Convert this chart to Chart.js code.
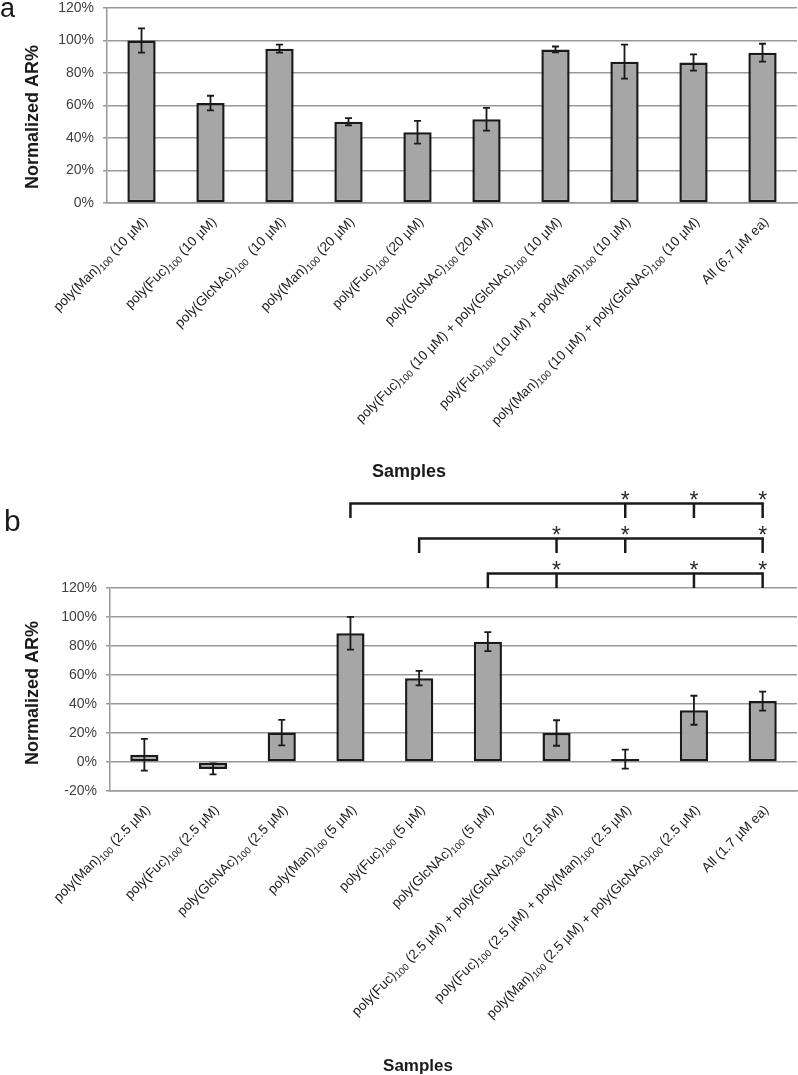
<!DOCTYPE html>
<html>
<head>
<meta charset="utf-8">
<title>Normalized AR%</title>
<script src="https://cdn.jsdelivr.net/npm/chart.js@4.4.1/dist/chart.umd.min.js"></script>
<style>
    body { margin: 0; background: #fff; }
    #wrap { position: relative; width: 798px; height: 1075px; }
    canvas { position: absolute; left: 0; }
</style>
</head>
<body>
<div id="wrap">
    <canvas id="chartA" width="798" height="480" style="top:0"></canvas>
    <canvas id="chartB" width="798" height="595" style="top:480px"></canvas>
</div>
<script>
// panel a
const labelsA = [
    'poly(Man)<sub>100</sub> (10 µM)',
    'poly(Fuc)<sub>100</sub> (10 µM)',
    'poly(GlcNAc)<sub>100</sub>  (10 µM)',
    'poly(Man)<sub>100</sub> (20 µM)',
    'poly(Fuc)<sub>100</sub> (20 µM)',
    'poly(GlcNAc)<sub>100</sub> (20 µM)',
    'poly(Fuc)<sub>100</sub> (10 µM) + poly(GlcNAc)<sub>100</sub> (10 µM)',
    'poly(Fuc)<sub>100</sub> (10 µM) + poly(Man)<sub>100</sub> (10 µM)',
    'poly(Man)<sub>100</sub> (10 µM) + poly(GlcNAc)<sub>100</sub> (10 µM)',
    'All (6.7 µM ea)'
];
const valuesA = [100, 61.5, 95, 50, 43.5, 51.5, 94.5, 87, 86.5, 92.5];
const errorsA = [7.5, 4.5, 2.5, 2.2, 7, 7, 1.8, 10.5, 5, 5.5];

// panel b
const labelsB = [
    'poly(Man)<sub>100</sub> (2.5 µM)',
    'poly(Fuc)<sub>100</sub> (2.5 µM)',
    'poly(GlcNAc)<sub>100</sub> (2.5 µM)',
    'poly(Man)<sub>100</sub> (5 µM)',
    'poly(Fuc)<sub>100</sub> (5 µM)',
    'poly(GlcNAc)<sub>100</sub> (5 µM)',
    'poly(Fuc)<sub>100</sub> (2.5 µM) + poly(GlcNAc)<sub>100</sub> (2.5 µM)',
    'poly(Fuc)<sub>100</sub> (2.5 µM) + poly(Man)<sub>100</sub> (2.5 µM)',
    'poly(Man)<sub>100</sub> (2.5 µM) + poly(GlcNAc)<sub>100</sub> (2.5 µM)',
    'All (1.7 µM ea)'
];
const valuesB = [5, -4.8, 20.3, 88.8, 57.8, 83, 20, 2, 35.7, 42];
const errorsB = [11, 3.8, 8.8, 11.3, 5, 6.6, 8.8, 6.5, 10, 6.5];

// significance brackets in panel b, lowest row first
const sigRef = [5, 4, 3];
const sigVs = [[6, 8, 9], [6, 7, 9], [7, 8, 9]];

const yRangeA = [0, 120];
const yRangeB = [-20, 120];
const yStep = 20;

const FONT = '"Liberation Sans", Arial, sans-serif';
Chart.defaults.font.family = FONT;
Chart.defaults.animation = false;

function plainLabel(s) {
    return s.replace(/<\/?sub>/g, '');
}

// rotated category label with small subscripts, right end anchored at (x, y)
function drawRichLabel(ctx, text, x, y) {
    const parts = text.split(/<sub>|<\/sub>/);
    const fonts = parts.map((p, i) => (i % 2 ? '9.5px ' : '13.5px ') + FONT);
    let total = 0;
    const widths = parts.map((p, i) => {
        ctx.font = fonts[i];
        const w = ctx.measureText(p).width;
        total += w;
        return w;
    });
    ctx.save();
    ctx.translate(x, y);
    ctx.rotate(-Math.PI / 4);
    ctx.textAlign = 'left';
    ctx.textBaseline = 'middle';
    ctx.fillStyle = '#1a1a1a';
    let cx = -total;
    parts.forEach((p, i) => {
        ctx.font = fonts[i];
        ctx.fillText(p, cx, i % 2 ? 3.5 : 0);
        cx += widths[i];
    });
    ctx.restore();
}

const decorPlugin = {
    id: 'decor',
    afterDatasetsDraw(chart, args, opts) {
        const { ctx, scales: { y } } = chart;
        const meta = chart.getDatasetMeta(0);
        ctx.save();
        ctx.strokeStyle = '#1a1a1a';
        ctx.lineWidth = 1.8;
        opts.values.forEach((v, i) => {
            const cx = meta.data[i].x;
            const top = y.getPixelForValue(v + opts.errors[i]);
            const bot = y.getPixelForValue(v - opts.errors[i]);
            ctx.beginPath();
            ctx.moveTo(cx, top); ctx.lineTo(cx, bot);
            ctx.moveTo(cx - 3.5, top); ctx.lineTo(cx + 3.5, top);
            ctx.moveTo(cx - 3.5, bot); ctx.lineTo(cx + 3.5, bot);
            ctx.stroke();
        });
        ctx.restore();
    },
    afterDraw(chart, args, opts) {
        const { ctx, chartArea, scales: { x } } = chart;
        opts.labels.forEach((lab, i) => {
            drawRichLabel(ctx, lab, x.getPixelForValue(i) + 4, chartArea.bottom + 17);
        });

        ctx.save();
        ctx.fillStyle = '#1a1a1a';
        ctx.textAlign = 'center';
        ctx.textBaseline = 'middle';
        ctx.font = 'bold 18px ' + FONT;
        ctx.translate(33, opts.yTitleY);
        ctx.rotate(-Math.PI / 2);
        ctx.fillText('Normalized AR%', 0, 0);
        ctx.restore();

        ctx.save();
        ctx.fillStyle = '#1a1a1a';
        ctx.textAlign = 'center';
        ctx.textBaseline = 'alphabetic';
        ctx.font = 'bold ' + opts.xTitleSize + 'px ' + FONT;
        ctx.fillText('Samples', opts.xTitleX, opts.xTitleY);
        ctx.textAlign = 'left';
        ctx.font = opts.letterSize + 'px ' + FONT;
        ctx.fillText(opts.letter, opts.letterX, opts.letterY);
        ctx.restore();

        if (opts.sigRef) {
            ctx.save();
            ctx.strokeStyle = '#1a1a1a';
            ctx.fillStyle = '#2a2a2a';
            ctx.lineWidth = 2.5;
            ctx.lineJoin = 'miter';
            ctx.textAlign = 'center';
            ctx.textBaseline = 'alphabetic';
            ctx.font = '23px ' + FONT;
            const leg = 14.5;
            opts.sigRef.forEach((ref, row) => {
                const ly = chartArea.top - 14.5 - 35 * row;
                const x0 = x.getPixelForValue(ref);
                const others = opts.sigVs[row];
                const x1 = x.getPixelForValue(others[others.length - 1]);
                ctx.beginPath();
                ctx.moveTo(x0, ly + leg);
                ctx.lineTo(x0, ly);
                ctx.lineTo(x1, ly);
                ctx.lineTo(x1, ly + leg);
                others.slice(0, -1).forEach(o => {
                    const ox = x.getPixelForValue(o);
                    ctx.moveTo(ox, ly);
                    ctx.lineTo(ox, ly + leg);
                });
                ctx.stroke();
                others.forEach(o => {
                    ctx.fillText('*', x.getPixelForValue(o), ly + 4.5);
                });
            });
            ctx.restore();
        }
    }
};

function barChart(id, cfg) {
    const ctx = document.getElementById(id).getContext('2d');
    return new Chart(ctx, {
        type: 'bar',
        data: {
            labels: cfg.labels.map(plainLabel),
            datasets: [{
                data: cfg.values,
                backgroundColor: '#a6a6a6',
                borderColor: '#1a1a1a',
                borderWidth: 2.5,
                borderSkipped: false,
                barPercentage: 0.41,
                categoryPercentage: 1
            }]
        },
        options: {
            responsive: false,
            animation: false,
            layout: { padding: { top: cfg.padTop, right: 1, left: 0, bottom: 0 } },
            plugins: {
                legend: { display: false },
                tooltip: { enabled: false },
                decor: cfg.decor
            },
            scales: {
                x: {
                    grid: { display: false },
                    border: { display: true, color: '#999', width: 1.5 },
                    ticks: { display: false },
                    afterFit: s => { s.height = cfg.xHeight; }
                },
                y: {
                    min: cfg.yRange[0],
                    max: cfg.yRange[1],
                    ticks: {
                        stepSize: yStep,
                        callback: v => v + '%',
                        color: '#404040',
                        font: { size: 14 },
                        padding: 9
                    },
                    grid: { color: '#999', lineWidth: 1.5, tickLength: 4 },
                    border: { color: '#999', width: 1.5 },
                    afterFit: s => {
                        s.width = cfg.yWidth;
                        s.paddingTop = 0;
                        s.paddingBottom = 0;
                    }
                }
            }
        },
        plugins: [decorPlugin]
    });
}

barChart('chartA', {
    labels: labelsA,
    values: valuesA,
    yRange: yRangeA,
    padTop: 8,
    xHeight: 277,
    yWidth: 107,
    decor: {
        labels: labelsA, values: valuesA, errors: errorsA,
        yTitleY: 117, xTitleX: 409, xTitleY: 477, xTitleSize: 18,
        letter: 'a', letterX: 0, letterY: 17, letterSize: 27
    }
});

barChart('chartB', {
    labels: labelsB,
    values: valuesB,
    yRange: yRangeB,
    padTop: 108,
    xHeight: 284,
    yWidth: 110,
    decor: {
        labels: labelsB, values: valuesB, errors: errorsB,
        yTitleY: 213, xTitleX: 418, xTitleY: 591, xTitleSize: 17,
        letter: 'b', letterX: 4, letterY: 51, letterSize: 30,
        sigRef: sigRef, sigVs: sigVs
    }
});
</script>
</body>
</html>
